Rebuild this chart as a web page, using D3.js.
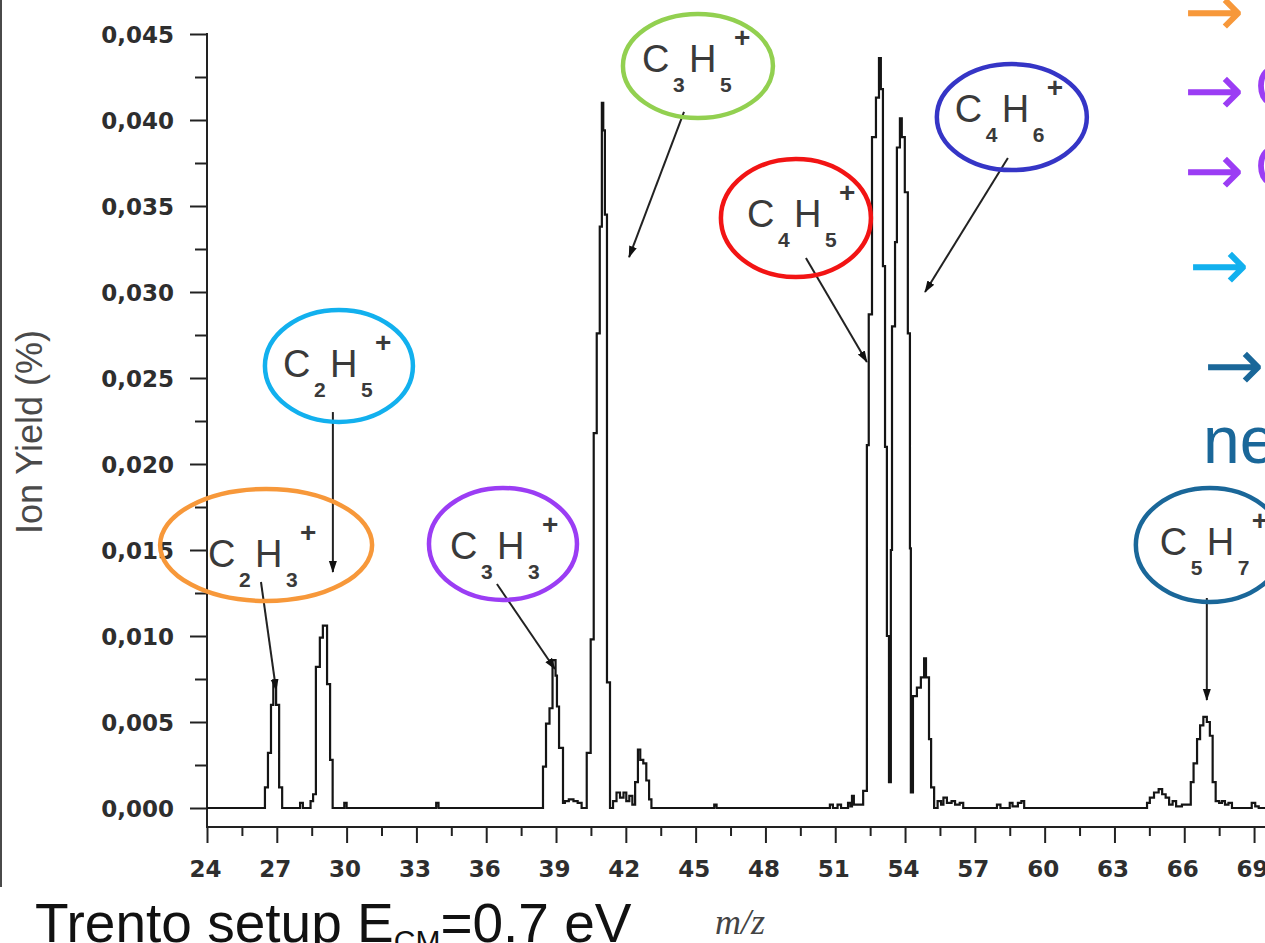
<!DOCTYPE html>
<html>
<head>
<meta charset="utf-8">
<script src="https://cdn.jsdelivr.net/npm/d3@7"></script>
<style>
  html, body { margin: 0; padding: 0; background: #fff; overflow: hidden; }
</style>
</head>
<body>
<div id="chart"></div>
<script>
const width = 1265;
const height = 943;

// spectrum: each m/z is where a step of the trace starts
const mz = [
    24.00, 26.49, 26.62, 26.75, 26.85, 26.97, 27.10, 27.23, 28.00, 28.12,
    28.45, 28.56, 28.68, 28.85, 28.98, 29.16, 29.29, 29.40, 29.90, 30.00,
    33.85, 33.95, 38.44, 38.57, 38.72, 38.85, 38.98, 39.04, 39.13, 39.30,
    39.38, 39.55, 39.75, 39.93, 40.10, 40.32, 40.49, 40.62, 40.75, 40.88,
    40.97, 41.03, 41.10, 41.19, 41.32, 41.45, 41.60, 41.75, 41.90, 42.02,
    42.15, 42.28, 42.40, 42.52, 42.62, 42.75, 42.88, 43.00, 43.10, 45.80,
    45.90, 50.77, 50.90, 51.10, 51.25, 51.55, 51.65, 51.72, 51.80, 52.05,
    52.20, 52.36, 52.44, 52.58, 52.75, 52.88, 52.96, 53.05, 53.14, 53.22,
    53.31, 53.39, 53.44, 53.57, 53.65, 53.78, 53.86, 53.99, 54.12, 54.21,
    54.25, 54.34, 54.51, 54.68, 54.82, 54.90, 55.03, 55.12, 55.25, 55.40,
    55.55, 55.65, 55.80, 56.00, 56.15, 56.35, 56.50, 57.95, 58.10, 58.50,
    58.62, 58.85, 59.00, 59.12, 64.40, 64.52, 64.70, 64.90, 65.05, 65.20,
    65.35, 65.50, 65.65, 65.90, 66.10, 66.28, 66.40, 66.55, 66.68, 66.82,
    66.97, 67.10, 67.22, 67.35, 67.50, 67.62, 67.75, 67.90, 68.05, 68.90,
    69.05, 69.20, 69.60
];
const ionYield = [
    0.0000, 0.0012, 0.0032, 0.0060, 0.0074, 0.0060, 0.0012, 0.0000, 0.0003, 0.0000,
    0.0004, 0.0008, 0.0082, 0.0099, 0.0106, 0.0072, 0.0028, 0.0000, 0.0003, 0.0000,
    0.0003, 0.0000, 0.0024, 0.0049, 0.0058, 0.0086, 0.0077, 0.0059, 0.0035, 0.0003,
    0.0004, 0.0005, 0.0004, 0.0003, 0.0000, 0.0032, 0.0098, 0.0218, 0.0276, 0.0338,
    0.0410, 0.0394, 0.0345, 0.0073, 0.0000, 0.0004, 0.0009, 0.0006, 0.0009, 0.0004,
    0.0007, 0.0002, 0.0015, 0.0034, 0.0028, 0.0026, 0.0016, 0.0005, 0.0000, 0.0002,
    0.0000, 0.0002, 0.0000, 0.0002, 0.0000, 0.0003, 0.0001, 0.0007, 0.0002, 0.0002,
    0.0010, 0.0211, 0.0287, 0.0390, 0.0413, 0.0436, 0.0418, 0.0315, 0.0210, 0.0100,
    0.0015, 0.0150, 0.0280, 0.0329, 0.0384, 0.0401, 0.0390, 0.0358, 0.0276, 0.0151,
    0.0009, 0.0065, 0.0070, 0.0076, 0.0087, 0.0076, 0.0040, 0.0012, 0.0000, 0.0004,
    0.0002, 0.0006, 0.0003, 0.0004, 0.0002, 0.0003, 0.0000, 0.0002, 0.0000, 0.0003,
    0.0001, 0.0003, 0.0004, 0.0000, 0.0003, 0.0006, 0.0009, 0.0011, 0.0008, 0.0006,
    0.0002, 0.0004, 0.0001, 0.0002, 0.0002, 0.0015, 0.0026, 0.0040, 0.0048, 0.0053,
    0.0050, 0.0042, 0.0015, 0.0004, 0.0003, 0.0004, 0.0002, 0.0003, 0.0000, 0.0003,
    0.0001, 0.0000, 0.0000
];

const xTicks = [24, 27, 30, 33, 36, 39, 42, 45, 48, 51, 54, 57, 60, 63, 66, 69];
const xMinorTicks = [25.5, 28.5, 31.5, 34.5, 37.5, 40.5, 43.5, 46.5, 49.5, 52.5, 55.5, 58.5, 61.5, 64.5, 67.5];
const yTicks = [0, 0.005, 0.010, 0.015, 0.020, 0.025, 0.030, 0.035, 0.040, 0.045];
const yMinorTicks = [0.0025, 0.0075, 0.0125, 0.0175, 0.0225, 0.0275, 0.0325, 0.0375, 0.0425];

// ion labels: formula C(c)H(h)+, centre and arrow in data units
const ions = [
    { c: "2", h: "3", color: "#F7983A", at: [26.54, 0.01529], rx: 106, ry: 56, tx: -58, ty: 22, from: [26.32, 0.01314], to: [26.97, 0.00686] },
    { c: "2", h: "5", color: "#12B0EE", at: [29.67, 0.02570], rx: 74, ry: 56, tx: -56, ty: 11, from: [29.41, 0.02302], to: [29.41, 0.01372] },
    { c: "3", h: "3", color: "#9B3DF4", at: [36.72, 0.01535], rx: 74, ry: 56, tx: -53, ty: 15, from: [36.46, 0.01302], to: [38.95, 0.00808] },
    { c: "3", h: "5", color: "#92D050", at: [45.10, 0.04314], rx: 75, ry: 52, tx: -56, ty: 6, from: [44.50, 0.04047], to: [42.14, 0.03203] },
    { c: "4", h: "5", color: "#F21414", at: [49.31, 0.03430], rx: 75, ry: 59, tx: -49, ty: 9, from: [49.74, 0.03198], to: [52.36, 0.02593] },
    { c: "4", h: "6", color: "#3535C6", at: [58.59, 0.04017], rx: 75, ry: 53, tx: -57, ty: 5, from: [58.42, 0.03779], to: [54.86, 0.03000] },
    { c: "5", h: "7", color: "#1A6799", at: [67.10, 0.01529], rx: 74, ry: 57, tx: -50, ty: 10, from: [66.97, 0.01221], to: [66.97, 0.00628] }
];

// slide bullets at the right edge (cut off by the page)
const bullets = [
    { y: 13, x: 1184, color: "#F7983A", rest: "" },
    { y: 92, x: 1184, color: "#9B3DF4", rest: "C" },
    { y: 172, x: 1184, color: "#9B3DF4", rest: "C" },
    { y: 267, x: 1189, color: "#12B0EE", rest: "" },
    { y: 367, x: 1204, color: "#1A6799", rest: "" }
];

const svg = d3.select("#chart")
    .append("svg")
    .attr("width", width)
    .attr("height", height)
    .style("background-color", "white");

var x = d3.scaleLinear().domain([24, 69.47]).range([207, 1265]);
var y = d3.scaleLinear().domain([0, 0.045]).range([808, 34]);
const xAxisY = 827;

// frame of the pasted plot
svg.append("line")
    .attr("x1", 1).attr("x2", 1).attr("y1", 0).attr("y2", 887)
    .attr("stroke", "#4a4a4a").attr("stroke-width", 2);

var fmt = d3.formatLocale({ decimal: ",", thousands: ".", grouping: [3], currency: ["", ""] }).format(".3f");

function styleAxis(g) {
    g.selectAll("line").attr("stroke", "#222").attr("stroke-width", 2);
    g.select(".domain").remove();
    g.selectAll("text")
        .attr("font-family", "DejaVu Sans, sans-serif")
        .attr("font-weight", "bold")
        .attr("font-size", "23px")
        .attr("fill", "#2e2e2e");
}

// y axis
var yAxis = svg.append("g")
    .attr("transform", "translate(207,0)")
    .call(d3.axisLeft(y).tickValues(yTicks).tickSize(17).tickFormat(fmt));
styleAxis(yAxis);
yAxis.selectAll("text").attr("x", -33).attr("dy", null).attr("y", 8);
var yMinor = svg.append("g")
    .attr("transform", "translate(207,0)")
    .call(d3.axisLeft(y).tickValues(yMinorTicks).tickSize(12).tickFormat(""));
styleAxis(yMinor);
svg.append("line")
    .attr("x1", 207).attr("x2", 207).attr("y1", y(0.045) - 1).attr("y2", xAxisY)
    .attr("stroke", "#222").attr("stroke-width", 2);

// x axis
var xAxis = svg.append("g")
    .attr("transform", `translate(0,${xAxisY})`)
    .call(d3.axisBottom(x).tickValues(xTicks).tickSize(16).tickFormat(d3.format("d")));
styleAxis(xAxis);
xAxis.selectAll("text").attr("dy", null).attr("y", 50).attr("x", -2);
var xMinor = svg.append("g")
    .attr("transform", `translate(0,${xAxisY})`)
    .call(d3.axisBottom(x).tickValues(xMinorTicks).tickSize(9).tickFormat(""));
styleAxis(xMinor);
svg.append("line")
    .attr("x1", 206).attr("x2", width).attr("y1", xAxisY).attr("y2", xAxisY)
    .attr("stroke", "#222").attr("stroke-width", 2);

// axis titles
svg.append("text")
    .attr("transform", "translate(42,432) rotate(-90)")
    .attr("text-anchor", "middle")
    .attr("font-family", "Liberation Sans, Arial, sans-serif")
    .attr("font-size", "36px")
    .attr("fill", "#4a4a4a")
    .text("Ion Yield (%)");

svg.append("text")
    .attr("x", 740)
    .attr("y", 934)
    .attr("text-anchor", "middle")
    .attr("font-family", "Liberation Serif, serif")
    .attr("font-style", "italic")
    .attr("font-size", "36px")
    .attr("fill", "#444")
    .text("m/z");

// spectrum trace
var line = d3.line()
    .x(d => x(d[0]))
    .y(d => y(d[1]))
    .curve(d3.curveStepAfter);

svg.append("path")
    .datum(mz.map((m, i) => [m, ionYield[i]]))
    .attr("d", line)
    .attr("fill", "none")
    .attr("stroke", "#151515")
    .attr("stroke-width", 2.2);

// arrows of the original plot
svg.append("defs").append("marker")
    .attr("id", "head")
    .attr("viewBox", "0 -5 12 10")
    .attr("refX", 11)
    .attr("refY", 0)
    .attr("markerWidth", 12)
    .attr("markerHeight", 10)
    .attr("markerUnits", "userSpaceOnUse")
    .attr("orient", "auto")
    .append("path")
    .attr("d", "M0,-4L12,0L0,4Z")
    .attr("fill", "#111");

svg.selectAll(".pointer")
    .data(ions)
    .join("line")
    .attr("class", "pointer")
    .attr("x1", d => x(d.from[0]))
    .attr("y1", d => y(d.from[1]))
    .attr("x2", d => x(d.to[0]))
    .attr("y2", d => y(d.to[1]))
    .attr("stroke", "#222")
    .attr("stroke-width", 2)
    .attr("marker-end", "url(#head)");

// ion labels and coloured rings
var label = svg.selectAll(".ion")
    .data(ions)
    .join("g")
    .attr("class", "ion")
    .attr("transform", d => `translate(${x(d.at[0])},${y(d.at[1])})`);

label.append("ellipse")
    .attr("rx", d => d.rx)
    .attr("ry", d => d.ry)
    .attr("fill", "none")
    .attr("stroke", d => d.color)
    .attr("stroke-width", 4.5);

function part(g, dx, dy, size, weight, txt) {
    g.append("text")
        .attr("x", d => d.tx + dx)
        .attr("y", d => d.ty + dy)
        .attr("font-family", "Liberation Sans, Arial, sans-serif")
        .attr("font-size", size)
        .attr("font-weight", weight)
        .attr("fill", "#3a3a3a")
        .text(txt);
}
part(label, 0, 0, "38px", "normal", "C");
part(label, 31, 20, "21px", "bold", d => d.c);
part(label, 47, 0, "38px", "normal", "H");
part(label, 78, 20, "21px", "bold", d => d.h);
part(label, 92, -25, "28px", "bold", "+");

// slide text
svg.selectAll(".bullet")
    .data(bullets)
    .join("text")
    .attr("class", "bullet")
    .attr("x", d => d.x)
    .attr("y", d => d.y + 23)
    .attr("font-family", "DejaVu Sans, sans-serif")
    .attr("font-size", "72px")
    .attr("fill", d => d.color)
    .text("\u2192");

svg.selectAll(".bulletRest")
    .data(bullets.filter(d => d.rest))
    .join("text")
    .attr("class", "bulletRest")
    .attr("x", 1255)
    .attr("y", d => d.y + 15)
    .attr("font-family", "Liberation Sans, Arial, sans-serif")
    .attr("font-size", "61px")
    .attr("fill", d => d.color)
    .text(d => d.rest);

svg.append("text")
    .attr("x", 1203)
    .attr("y", 463)
    .attr("font-family", "Liberation Sans, Arial, sans-serif")
    .attr("font-size", "66px")
    .attr("fill", "#1A6799")
    .text("ne");

var caption = svg.append("text")
    .attr("x", 35)
    .attr("y", 942)
    .attr("font-family", "Liberation Sans, Arial, sans-serif")
    .attr("font-size", "55px")
    .attr("fill", "#111");
caption.append("tspan").text("Trento setup E");
caption.append("tspan").attr("font-size", "30px").attr("dy", 9).text("CM");
caption.append("tspan").attr("dy", -9).text("=0.7 eV");
</script>
</body>
</html>
